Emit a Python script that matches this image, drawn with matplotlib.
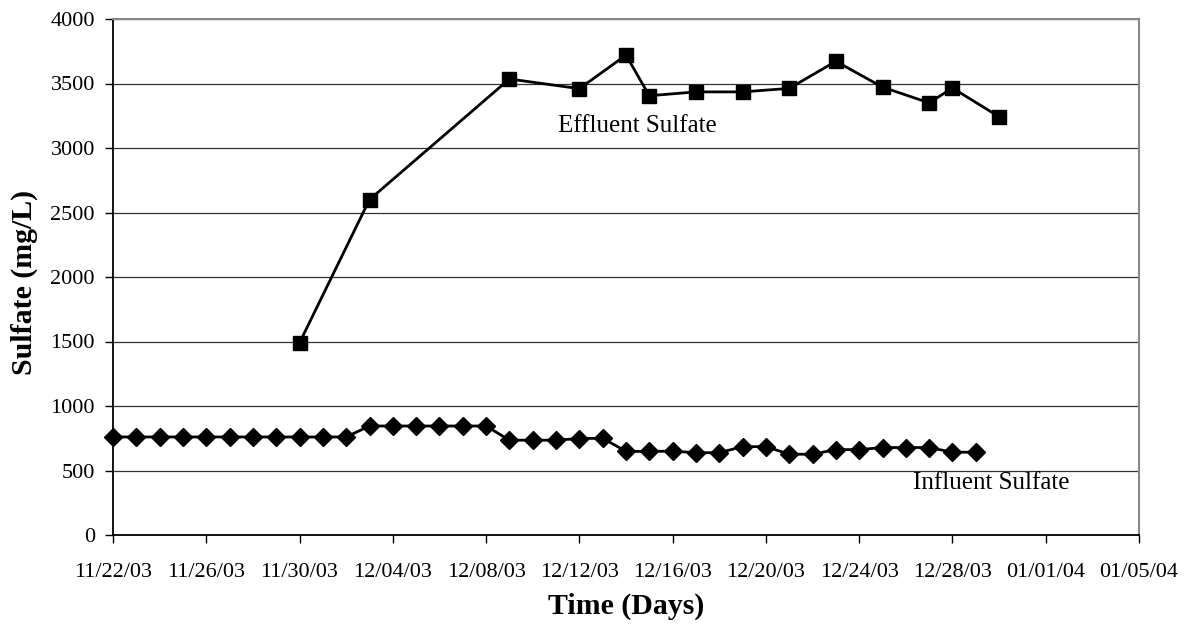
import pandas as pd
import matplotlib
matplotlib.use("Agg")
import matplotlib.pyplot as plt
import matplotlib.dates as mdates

# =====================================
# DATA
# =====================================

influent_dates = pd.date_range("2003-11-22", "2003-12-29", freq="D")
influent_values = [
    760, 760, 760, 760, 760, 760, 760, 760, 760, 760, 760,   # 11/22 - 12/02
    845, 845, 845, 845, 845, 845,                            # 12/03 - 12/08
    735, 735, 735, 748, 750,                                 # 12/09 - 12/13
    648, 648, 650, 638, 638, 685, 685, 626, 626,             # 12/14 - 12/22
    662, 662, 678, 678, 678, 642, 642,                       # 12/23 - 12/29
]

effluent_dates = pd.to_datetime([
    "2003-11-30", "2003-12-03", "2003-12-09", "2003-12-12", "2003-12-14",
    "2003-12-15", "2003-12-17", "2003-12-19", "2003-12-21", "2003-12-23",
    "2003-12-25", "2003-12-27", "2003-12-28", "2003-12-30",
])
effluent_values = [
    1490, 2600, 3535, 3460, 3720, 3405, 3435, 3435, 3462, 3672,
    3472, 3350, 3465, 3242,
]

tick_dates = pd.date_range("2003-11-22", "2004-01-05", freq="4D")
y_ticks = [0, 500, 1000, 1500, 2000, 2500, 3000, 3500, 4000]

# =====================================
# PLOT
# =====================================

plt.rcParams["font.family"] = ["Liberation Serif", "DejaVu Serif"]

fig = plt.figure(figsize=(11.95, 6.25), dpi=100)
ax = fig.add_axes([113 / 1195, 1 - 535 / 625, 1026 / 1195, 516 / 625])

ax.plot(influent_dates, influent_values, color="black", linewidth=2,
        marker="D", markersize=9.5, markerfacecolor="black",
        markeredgecolor="black", zorder=3, clip_on=False)
ax.plot(effluent_dates, effluent_values, color="black", linewidth=2,
        marker="s", markersize=10.5, markerfacecolor="black",
        markeredgecolor="black", zorder=3, clip_on=False)

ax.set_xlim(tick_dates[0], tick_dates[-1])
ax.set_ylim(0, 4000)
ax.set_xticks(tick_dates)
ax.xaxis.set_major_formatter(mdates.DateFormatter("%m/%d/%y"))
ax.set_yticks(y_ticks)

ax.grid(axis="y", color="#333333", linewidth=0.9)
ax.set_axisbelow(True)

for side in ["left", "bottom"]:
    ax.spines[side].set_color("black")
    ax.spines[side].set_linewidth(1.3)
for side in ["top", "right"]:
    ax.spines[side].set_color("#888888")
    ax.spines[side].set_linewidth(1.5)

ax.tick_params(axis="both", direction="out", length=6, width=1,
               labelsize=16, colors="black")
ax.tick_params(axis="x", pad=14)
ax.tick_params(axis="y", pad=7)

ax.set_xlabel("Time (Days)", fontsize=21.5, fontweight="bold", va="center")
ax.set_ylabel("Sulfate (mg/L)", fontsize=21.5, fontweight="bold", va="center")
ax.xaxis.set_label_coords(0.5, (535 - 606) / 516)
ax.yaxis.set_label_coords((24 - 113) / 1026, 0.49)

ax.text(pd.Timestamp("2003-12-14 12:00"), 3170, "Effluent Sulfate",
        fontsize=18, ha="center", va="center")
ax.text(pd.Timestamp("2003-12-29 16:00"), 400, "Influent Sulfate",
        fontsize=18, ha="center", va="center")

fig.savefig("out.png", dpi=100)
plt.close(fig)
